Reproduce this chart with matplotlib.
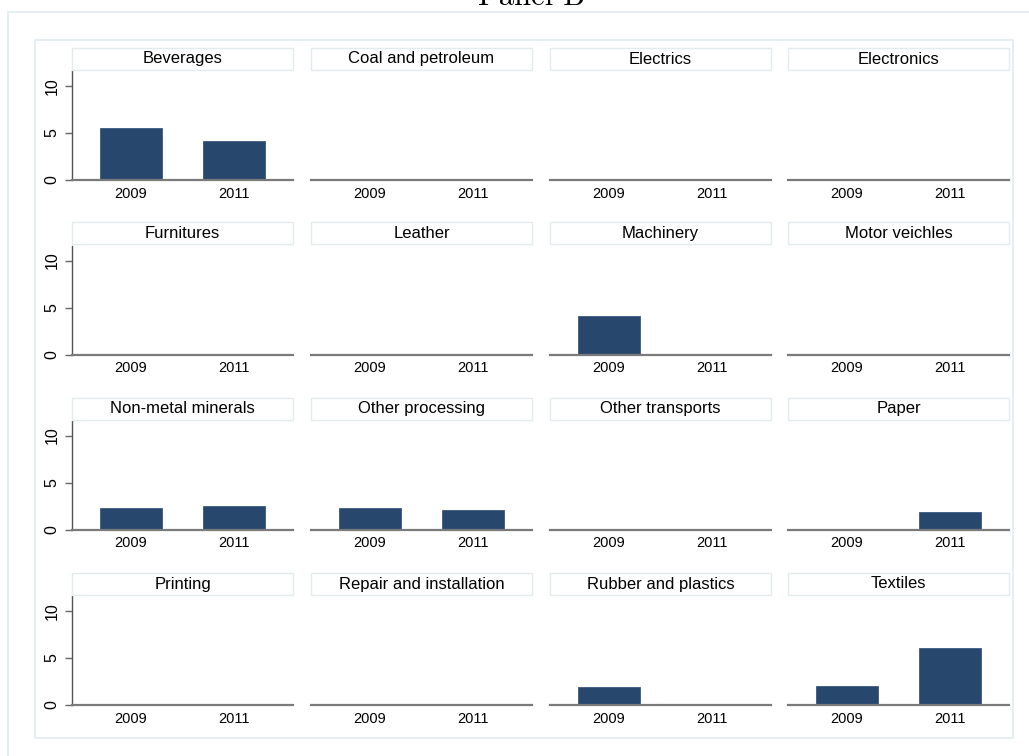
import matplotlib.pyplot as plt
from matplotlib.patches import Rectangle

# Data
industries = ["Beverages", "Coal and petroleum", "Electrics", "Electronics",
              "Furnitures", "Leather", "Machinery", "Motor veichles",
              "Non-metal minerals", "Other processing", "Other transports", "Paper",
              "Printing", "Repair and installation", "Rubber and plastics", "Textiles"]
years = ["2009", "2011"]
share_2009 = [5.5, 0, 0, 0, 0, 0, 4.1, 0, 2.3, 2.3, 0, 0, 0, 0, 1.9, 2.0]
share_2011 = [4.1, 0, 0, 0, 0, 0, 0, 0, 2.5, 2.1, 0, 1.9, 0, 0, 0, 6.1]
yticks = [0, 5, 10]

W, H = 1029, 756
bar_color = "#27476d"
frame_color = "#e3ebef"

plt.rcParams['font.family'] = ['Liberation Sans', 'DejaVu Sans']
fig = plt.figure(figsize=(W / 100, H / 100), dpi=100)


def fig_box(x0, y0, x1, y1):
    # pixel box (top-left origin) -> figure fraction [left, bottom, width, height]
    return [x0 / W, 1 - y1 / H, (x1 - x0) / W, (y1 - y0) / H]


# outer and inner frames
for (x0, y0, x1, y1) in [(8, 12, 1040, 770), (35, 40, 1013, 738)]:
    l, b, w, h = fig_box(x0, y0, x1, y1)
    fig.add_artist(Rectangle((l, b), w, h, transform=fig.transFigure,
                             facecolor="none", edgecolor=frame_color, lw=1.2))

fig.text(531 / W, 1 - 5 / H, "Panel B", fontfamily="cmr10", fontsize=22,
         ha="center", va="baseline")

col_x = [72, 311, 550, 788]
col_w = 221
row_zero = [180, 354.5, 529.5, 705]
ax_h = 109

for i, name in enumerate(industries):
    r, c = divmod(i, 4)
    x0 = col_x[c]
    y1 = row_zero[r]
    ax = fig.add_axes(fig_box(x0, y1 - ax_h, x0 + col_w, y1))
    vals = [share_2009[i], share_2011[i]]
    ax.bar([1, 2], vals, width=0.6, color=bar_color, edgecolor="#3a5a80",
           linewidth=0.6, zorder=2)
    ax.set_xlim(0.427, 2.573)
    ax.set_ylim(0, 11.6)
    ax.set_xticks([1, 2])
    ax.set_xticklabels(years, fontsize=10.5)
    ax.tick_params(axis="x", length=0, pad=5)
    for s in ["top", "right"]:
        ax.spines[s].set_visible(False)
    ax.spines["bottom"].set_color("#7a7a7a")
    ax.spines["bottom"].set_linewidth(1.6)
    ax.spines["bottom"].set_zorder(3)
    if c == 0:
        ax.spines["left"].set_color("#555555")
        ax.spines["left"].set_linewidth(1.0)
        ax.set_yticks(yticks)
        ax.set_yticklabels([str(t) for t in yticks], fontsize=11.5,
                           rotation=90, va="center")
        ax.tick_params(axis="y", length=5, width=1, color="#666666", pad=4)
    else:
        ax.spines["left"].set_visible(False)
        ax.set_yticks([])

    # strip header above each panel
    l, b, w, h = fig_box(x0, y1 - ax_h - 23, x0 + col_w, y1 - ax_h - 1)
    fig.add_artist(Rectangle((l, b), w, h, transform=fig.transFigure,
                             facecolor="white", edgecolor=frame_color, lw=1.0))
    fig.text(l + w / 2, b + h / 2, name, fontsize=12, ha="center", va="center")

plt.savefig("out.png", dpi=100)
